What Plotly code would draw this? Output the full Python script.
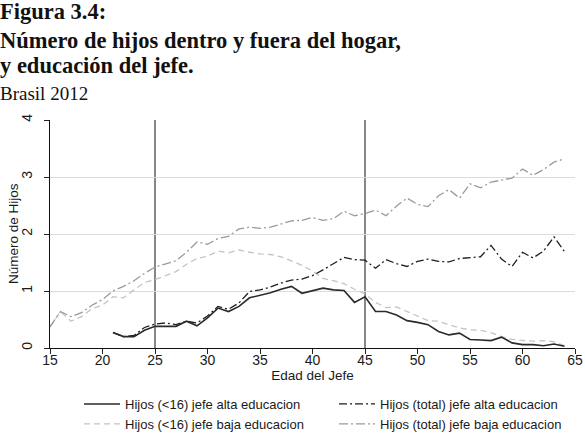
import plotly.graph_objects as go

# ---------------- data ----------------
ages_baja = list(range(15, 65))
ages_alta = list(range(21, 65))

total_baja = [0.37, 0.64, 0.55, 0.62, 0.75, 0.85, 1.00, 1.08, 1.18, 1.31,
              1.42, 1.48, 1.53, 1.68, 1.86, 1.82, 1.92, 1.96, 2.09, 2.12,
              2.10, 2.12, 2.18, 2.23, 2.24, 2.29, 2.24, 2.27, 2.40, 2.32,
              2.36, 2.42, 2.32, 2.49, 2.63, 2.52, 2.48, 2.67, 2.78, 2.63,
              2.88, 2.81, 2.91, 2.94, 2.98, 3.14, 3.03, 3.13, 3.26, 3.32]

lt16_baja = [0.37, 0.64, 0.47, 0.55, 0.69, 0.75, 0.90, 0.88, 1.02, 1.15,
             1.20, 1.27, 1.34, 1.47, 1.57, 1.61, 1.70, 1.67, 1.72, 1.68,
             1.65, 1.64, 1.60, 1.53, 1.45, 1.35, 1.22, 1.18, 1.13, 1.03,
             0.95, 0.80, 0.71, 0.72, 0.64, 0.55, 0.48, 0.47, 0.41, 0.35,
             0.32, 0.31, 0.27, 0.20, 0.15, 0.13, 0.12, 0.13, 0.11, 0.04]

lt16_alta = [0.27, 0.20, 0.20, 0.31, 0.38, 0.38, 0.38, 0.47, 0.39, 0.53,
             0.70, 0.64, 0.73, 0.88, 0.92, 0.97, 1.03, 1.08, 0.96, 1.00,
             1.05, 1.02, 1.01, 0.80, 0.90, 0.64, 0.64, 0.58, 0.48, 0.45,
             0.41, 0.29, 0.23, 0.26, 0.15, 0.14, 0.13, 0.19, 0.09, 0.06,
             0.06, 0.04, 0.07, 0.03]

total_alta = [0.27, 0.20, 0.22, 0.36, 0.42, 0.44, 0.41, 0.47, 0.44, 0.56,
              0.73, 0.68, 0.79, 0.99, 1.02, 1.07, 1.14, 1.19, 1.21, 1.27,
              1.37, 1.48, 1.59, 1.55, 1.54, 1.40, 1.55, 1.48, 1.43, 1.52,
              1.56, 1.52, 1.51, 1.57, 1.59, 1.60, 1.80, 1.56, 1.43, 1.68,
              1.58, 1.70, 1.95, 1.69]

ref_ages = [25, 45]
x_ticks = [15, 20, 25, 30, 35, 40, 45, 50, 55, 60, 65]
y_ticks = [0, 1, 2, 3, 4]
grid_vals = [1, 2, 3]

names = ["Hijos (<16) jefe alta educacion",
         "Hijos (total) jefe alta educacion",
         "Hijos (<16) jefe baja educacion",
         "Hijos (total) jefe baja educacion"]

title_lines = ["Figura 3.4:",
               "Número de hijos dentro y fuera del hogar,",
               "y educación del jefe.",
               "Brasil 2012"]
x_title = "Edad del Jefe"
y_title = "Número de Hijos"

# ---------------- figure ----------------
SANS = "Liberation Sans, Arial, sans-serif"
SERIF = "Liberation Serif, Times New Roman, serif"

fig = go.Figure()

fig.add_trace(go.Scatter(x=ages_baja, y=lt16_baja, mode="lines", name=names[2],
                         line=dict(color="#c4c4c4", width=1.3, dash="6px,4px")))
fig.add_trace(go.Scatter(x=ages_baja, y=total_baja, mode="lines", name=names[3],
                         line=dict(color="#9a9a9a", width=1.3, dash="9px,3px,2px,3px")))
fig.add_trace(go.Scatter(x=ages_alta, y=total_alta, mode="lines", name=names[1],
                         line=dict(color="#1e1e1e", width=1.3, dash="8px,3px,2px,3px")))
fig.add_trace(go.Scatter(x=ages_alta, y=lt16_alta, mode="lines", name=names[0],
                         line=dict(color="#2a2a2a", width=1.6)))

# legend order: row1 = <16 alta, total alta ; row2 = <16 baja, total baja
order = {names[0]: 1, names[1]: 2, names[2]: 3, names[3]: 4}
for tr in fig.data:
    tr.legendrank = order[tr.name]

for a in ref_ages:
    fig.add_vline(x=a, line=dict(color="#6a6a6a", width=1.6), layer="below")

L, R, T, B = 50, 10, 120, 88
W, H = 585, 436
pw, ph = W - L - R, H - T - B

def px_x(px):
    return (px - L) / pw

def px_y(py):
    return (H - B - py) / ph

title_centers = [11.5, 40.5, 65.5, 93.0]
title_sizes = [22.5, 22.5, 22.5, 19]
title_bold = [True, True, True, False]
for txt, cy, sz, bd in zip(title_lines, title_centers, title_sizes, title_bold):
    fig.add_annotation(text=f"<b>{txt}</b>" if bd else txt,
                       xref="paper", yref="paper", x=px_x(-2), y=px_y(cy),
                       xanchor="left", yanchor="middle", showarrow=False,
                       font=dict(family=SERIF, size=sz, color="#111111"))

# y axis title (placed as rotated text, Stata-like spacing)
fig.add_annotation(text=y_title, xref="paper", yref="paper",
                   x=px_x(13), y=0.5, xanchor="center", yanchor="middle",
                   textangle=-90, showarrow=False,
                   font=dict(family=SANS, size=13.5, color="#1a1a1a"))

fig.update_layout(
    width=W, height=H,
    margin=dict(l=L, r=R, t=T, b=B, autoexpand=False),
    paper_bgcolor="white", plot_bgcolor="white",
    font=dict(family=SANS, color="#1a1a1a"),
    showlegend=True,
    legend=dict(orientation="h", xref="container", yref="container",
                x=79 / W, y=1 - 389 / H, xanchor="left", yanchor="top",
                entrywidth=204, entrywidthmode="pixels", itemwidth=36,
                traceorder="normal", font=dict(family=SANS, size=13, color="#1a1a1a"),
                bgcolor="rgba(0,0,0,0)", tracegroupgap=0),
    xaxis=dict(range=[15, 65], tickvals=x_ticks, ticks="outside", ticklen=5,
               tickcolor="#222", showline=True, linecolor="#111", linewidth=1.2,
               showgrid=False, zeroline=False, ticklabelstandoff=-6,
               tickfont=dict(size=14, color="#1a1a1a"),
               title=dict(text=x_title, standoff=1,
                          font=dict(size=13.5, color="#1a1a1a"))),
    yaxis=dict(range=[0, 4], tickvals=y_ticks, ticks="outside", ticklen=5,
               tickcolor="#222", showline=True, linecolor="#111", linewidth=1.2,
               showgrid=False, zeroline=False, tickangle=-90,
               ticklabelstandoff=6,
               tickfont=dict(size=14, color="#1a1a1a")),
    yaxis2=dict(range=[0, 4], overlaying="y", tickvals=grid_vals, showgrid=True,
                gridcolor="#dcdcdc", gridwidth=1, showticklabels=False,
                showline=False, zeroline=False, ticks="", layer="below traces"),
)

# invisible helper trace so yaxis2 (grid only) is drawn
fig.add_trace(go.Scatter(x=[ages_baja[0]], y=[lt16_baja[0]], yaxis="y2",
                         mode="markers", marker=dict(opacity=0),
                         showlegend=False, hoverinfo="skip"))

fig.write_html("out.html")
